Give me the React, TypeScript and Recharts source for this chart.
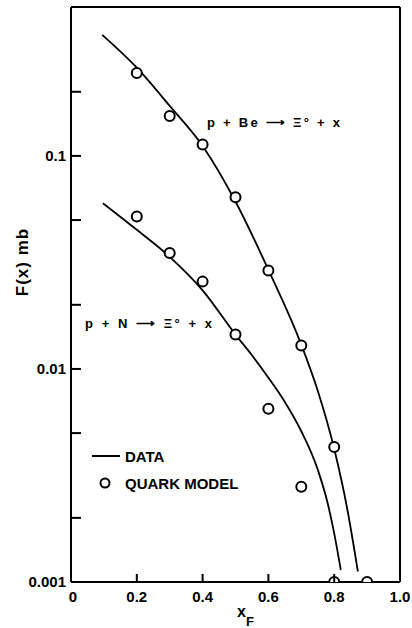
import {
  ComposedChart,
  Line,
  Scatter,
  XAxis,
  YAxis,
  ReferenceLine,
} from 'recharts'

// x_F tick labels
const xTicks = [0, 0.2, 0.4, 0.6, 0.8, 1.0]
const yTicks = [0.001, 0.002, 0.005, 0.01, 0.02, 0.05, 0.1, 0.2]
const yLabels: Record<number, string> = { 0.001: '0.001', 0.01: '0.01', 0.1: '0.1' }

// measured cross section (DATA curves)
const beDataX = [0.095, 0.2, 0.3, 0.4, 0.5, 0.6, 0.7, 0.75, 0.8, 0.84, 0.872]
const beDataY = [0.37, 0.2595, 0.1717, 0.1114, 0.0611, 0.0292, 0.013, 0.0079, 0.00422, 0.00219, 0.00112]
const nDataX = [0.097, 0.2, 0.3, 0.4, 0.5, 0.55, 0.6, 0.65, 0.7, 0.75, 0.78, 0.8, 0.82]
const nDataY = [0.06, 0.045, 0.0336, 0.0234, 0.0145, 0.0116, 0.0091, 0.007, 0.0051, 0.00337, 0.00235, 0.00169, 0.00114]

// quark model points
const beModelX = [0.2, 0.3, 0.4, 0.5, 0.6, 0.7, 0.8, 0.9]
const beModelY = [0.245, 0.154, 0.113, 0.064, 0.029, 0.0129, 0.0043, 0.001]
const nModelX = [0.2, 0.3, 0.4, 0.5, 0.6, 0.7, 0.8]
const nModelY = [0.052, 0.035, 0.0257, 0.0145, 0.0065, 0.0028, 0.001]

const zip = (xs: number[], ys: number[]) => xs.map((x, i) => ({ x, y: ys[i] }))

const font = '"Liberation Sans", Arial, sans-serif'

const XTick = (props: any) => {
  const { x, y, payload } = props
  const v = payload.value
  const inner = v > 0 && v < 1
  return (
    <g>
      {inner && <line x1={x} y1={y} x2={x} y2={y - 8} stroke="#000" strokeWidth={2} />}
      <text x={x + (v === 0 ? 2 : 0)} y={y + 20} textAnchor="middle" fontFamily={font} fontWeight="bold" fontSize={15} fill="#000">
        {v === 0 ? '0' : v.toFixed(1)}
      </text>
    </g>
  )
}

const YTick = (props: any) => {
  const { x, y, payload } = props
  const v = payload.value
  const label = yLabels[v]
  return (
    <g>
      {v > 0.001 && <line x1={x} y1={y} x2={x + 10} y2={y} stroke="#000" strokeWidth={2} />}
      {label && (
        <text x={x - 5} y={y + 5} textAnchor="end" fontFamily={font} fontWeight="bold" fontSize={15} fill="#000">
          {label}
        </text>
      )}
    </g>
  )
}

const Ring = (props: any) => (
  <circle cx={props.cx} cy={props.cy} r={5} fill="#fff" stroke="#000" strokeWidth={2} />
)

export default function App() {
  return (
    <div style={{ position: 'absolute', left: 0, top: 0, width: 412, height: 628, background: '#fff' }}>
      <ComposedChart width={412} height={628} margin={{ top: 7, right: 12, bottom: 16, left: 0 }}>
        <XAxis
          type="number"
          dataKey="x"
          domain={[0, 1]}
          ticks={xTicks}
          allowDataOverflow
          height={30}
          tickSize={0}
          tickMargin={0}
          tickLine={false}
          axisLine={{ stroke: '#000', strokeWidth: 2 }}
          tick={<XTick />}
          interval={0}
        />
        <YAxis
          type="number"
          dataKey="y"
          scale="log"
          domain={[0.001, 0.5]}
          ticks={yTicks}
          allowDataOverflow
          width={71}
          tickSize={0}
          tickMargin={0}
          tickLine={false}
          axisLine={{ stroke: '#000', strokeWidth: 2 }}
          tick={<YTick />}
          interval={0}
        />
        <ReferenceLine y={0.5} stroke="#000" strokeWidth={2} />
        <ReferenceLine x={1} stroke="#000" strokeWidth={2} />
        <Line data={zip(beDataX, beDataY)} dataKey="y" type="monotone" stroke="#000" strokeWidth={1.8} dot={false} isAnimationActive={false} />
        <Line data={zip(nDataX, nDataY)} dataKey="y" type="monotone" stroke="#000" strokeWidth={1.8} dot={false} isAnimationActive={false} />
        <Scatter data={zip(beModelX, beModelY)} dataKey="y" shape={<Ring />} isAnimationActive={false} />
        <Scatter data={zip(nModelX, nModelY)} dataKey="y" shape={<Ring />} isAnimationActive={false} />
      </ComposedChart>
      <svg width={412} height={628} style={{ position: 'absolute', left: 0, top: 0, pointerEvents: 'none' }}>
        <g fontFamily={font} fontWeight="bold" fill="#000">
          <text x={28} y={262} fontSize={17} textAnchor="middle" transform="rotate(-90 28 262)" letterSpacing={1}>
            F(x) mb
          </text>
          <text x={237} y={617} fontSize={16}>
            x<tspan fontSize={13} dy={9}>F</tspan>
          </text>
          <text x={207} y={127} fontSize={13} textLength={133} lengthAdjust="spacing">
            p + Be ⟶ Ξ° + x
          </text>
          <text x={85} y={328} fontSize={13} textLength={127} lengthAdjust="spacing">
            p + N ⟶ Ξ° + x
          </text>
          <line x1={92} y1={456} x2={120} y2={456} stroke="#000" strokeWidth={2} />
          <text x={125} y={462} fontSize={15}>DATA</text>
          <circle cx={105} cy={483} r={4.5} fill="#fff" stroke="#000" strokeWidth={2} />
          <text x={125} y={489} fontSize={15}>QUARK MODEL</text>
        </g>
      </svg>
    </div>
  )
}
